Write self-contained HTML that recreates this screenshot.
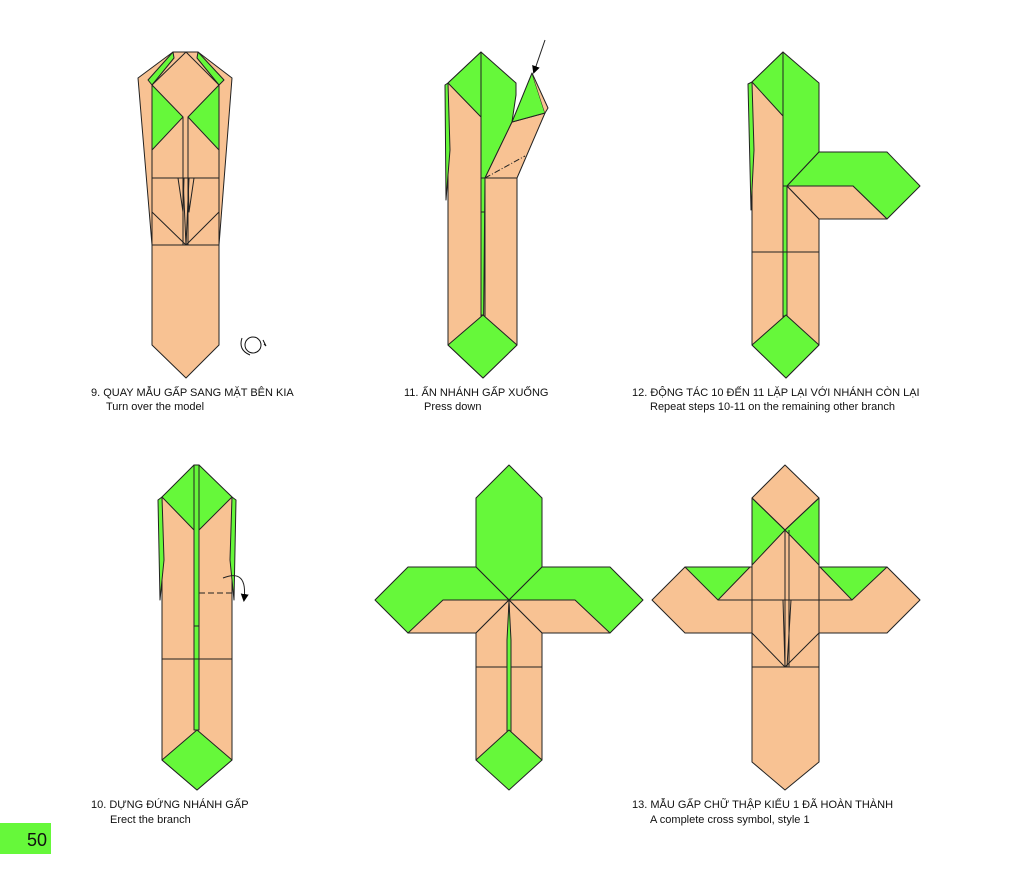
<!DOCTYPE html>
<html><head><meta charset="utf-8"><style>
html,body{margin:0;padding:0;background:#fff;}
svg{display:block}
text{font-family:"Liberation Sans",Arial,sans-serif;fill:#111;}
</style></head><body>
<svg width="1024" height="875" viewBox="0 0 1024 875" xmlns="http://www.w3.org/2000/svg">
<defs>
<marker id="ah" markerWidth="8" markerHeight="8" refX="6" refY="4" orient="auto" markerUnits="userSpaceOnUse"><path d="M0,0 L8,4 L0,8 z" fill="#000"/></marker>
</defs>
<g stroke="#222" stroke-width="1" stroke-linejoin="round">
<!-- FIG 9 -->
<polygon points="138,78 173,52 186,52 198,52 232,78 219,245 219,345 186,378 152,345 152,245" fill="#F8C293"/>
<polygon points="148,80 173,52 174,58 152,85" fill="#66F83A"/>
<polygon points="224,80 198,52 197,58 219,85" fill="#66F83A"/>
<polygon points="152,85 183,117 152,150" fill="#66F83A"/>
<polygon points="219,85 188,117 219,150" fill="#66F83A"/>
<polyline points="152,85 186,52 219,85" fill="none"/>
<line x1="152" y1="85" x2="152" y2="245"/><line x1="219" y1="85" x2="219" y2="245"/>
<line x1="183" y1="117" x2="183" y2="245"/><line x1="188" y1="117" x2="188" y2="245"/>
<line x1="152" y1="178" x2="219" y2="178"/><line x1="152" y1="245" x2="219" y2="245"/>
<polyline points="152,212 186,245 219,212" fill="none"/>
<polyline points="178,178 183,212 184,178" fill="none"/>
<polyline points="188,178 189,212 194,178" fill="none"/>
<line x1="186" y1="245" x2="183" y2="178"/><line x1="186" y1="245" x2="189" y2="178"/>
<!-- FIG 11 -->
<polygon points="448,83 481,52 481,345 483,378 448,345" fill="#F8C293"/>
<polygon points="448,83 481,52 481,117" fill="#66F83A"/>
<polygon points="445,85 448,83 450,150 446,200" fill="#66F83A"/>
<polygon points="481,52 516,83 516,95 512,122 485,178 481,178" fill="#66F83A"/>
<rect x="481" y="178" width="5" height="137" fill="#66F83A"/>
<polygon points="485,178 517,178 517,345 483,378" fill="#F8C293"/>
<line x1="481" y1="52" x2="481" y2="345"/>
<line x1="485" y1="178" x2="485" y2="345"/>
<line x1="481" y1="212" x2="485" y2="212"/>
<polygon points="485,178 517,178 545,113 512,122" fill="#F8C293"/>
<polygon points="512,122 545,113 532,73" fill="#66F83A"/>
<polyline points="532,73 548,108 545,113" fill="#F8C293"/>
<line x1="485" y1="178" x2="525" y2="156" stroke-dasharray="6,2,1,2"/>
<polygon points="448,345 483,315 517,345 483,378" fill="#66F83A"/>
<line x1="545" y1="40" x2="534" y2="72" marker-end="url(#ah)"/>
<!-- FIG 12 -->
<polygon points="752,82 783,52 783,345 786,378 752,345" fill="#F8C293"/>
<polygon points="752,82 783,52 783,116" fill="#66F83A"/>
<polygon points="748,84 752,82 754,150 751,210" fill="#66F83A"/>
<polygon points="783,52 819,83 819,152 787,186 783,186" fill="#66F83A"/>
<rect x="783" y="186" width="4" height="130" fill="#66F83A"/>
<polygon points="787,186 819,219 819,345 786,378 787,315" fill="#F8C293"/>
<polygon points="787,186 819,152 887,152 920,186 887,219 853,186" fill="#66F83A"/>
<polygon points="787,186 853,186 887,219 819,219" fill="#F8C293"/>
<line x1="752" y1="252" x2="819" y2="252"/>
<line x1="783" y1="52" x2="783" y2="345"/><line x1="787" y1="186" x2="787" y2="345"/>
<polygon points="752,345 786,315 819,345 786,378" fill="#66F83A"/>
<!-- FIG 10 -->
<polygon points="162,497 197,465 232,497 232,760 197,790 162,760" fill="#F8C293"/>
<polygon points="158,500 162,497 164,560 160,600" fill="#66F83A"/>
<polygon points="236,500 232,497 230,560 234,600" fill="#66F83A"/>
<polygon points="162,497 194,465 194,530" fill="#66F83A"/>
<polygon points="232,497 199,465 199,530" fill="#66F83A"/>
<rect x="194" y="465" width="5" height="265" fill="#66F83A"/>
<line x1="162" y1="659" x2="232" y2="659"/>
<line x1="194" y1="626" x2="199" y2="626"/>
<line x1="199" y1="593" x2="232" y2="593" stroke-dasharray="6,3"/>
<polygon points="162,760 197,730 232,760 197,790" fill="#66F83A"/>
<path d="M223,578 Q248,568 244,600" fill="none" marker-end="url(#ah)"/>
<!-- FIG middle cross -->
<polygon points="476,498 509,465 542,498 542,567 509,600 476,567" fill="#66F83A"/>
<polygon points="375,600 408,567 476,567 509,600 443,633 408,633" fill="#66F83A"/>
<polygon points="643,600 610,567 542,567 509,600 575,633 610,633" fill="#66F83A"/>
<polygon points="408,633 443,600 509,600 476,633" fill="#F8C293"/>
<polygon points="610,633 575,600 509,600 542,633" fill="#F8C293"/>
<polygon points="476,633 509,600 507,667 476,667" fill="#F8C293"/>
<polygon points="542,633 509,600 511,667 542,667" fill="#F8C293"/>
<rect x="476" y="667" width="31" height="93" fill="#F8C293"/>
<rect x="511" y="667" width="31" height="93" fill="#F8C293"/>
<polygon points="509,602 511,640 511,735 507,735 507,640" fill="#66F83A"/>
<polygon points="476,760 509,730 542,760 509,790" fill="#66F83A"/>
<!-- FIG 13 -->
<polygon points="752,498 785,465 819,498 819,567 887,567 920,600 887,633 819,633 819,762 785,790 752,762 752,633 685,633 652,600 685,567 752,567" fill="#F8C293"/>
<polygon points="752,498 785,530 752,565" fill="#66F83A"/>
<polygon points="819,498 785,530 819,565" fill="#66F83A"/>
<polygon points="685,567 750,567 718,600" fill="#66F83A"/>
<polygon points="887,567 820,567 852,600" fill="#66F83A"/>
<polyline points="752,498 785,530 819,498" fill="none"/>
<line x1="785" y1="530" x2="785" y2="667"/><line x1="789" y1="530" x2="789" y2="667"/>
<line x1="718" y1="600" x2="852" y2="600"/>
<line x1="752" y1="567" x2="752" y2="667"/><line x1="819" y1="567" x2="819" y2="667"/>
<line x1="752" y1="667" x2="819" y2="667"/>
<polyline points="752,633 785,667 819,633" fill="none"/>
<line x1="785" y1="667" x2="783" y2="600"/><line x1="787" y1="667" x2="791" y2="600"/>
</g>
<g fill="none" stroke="#111" stroke-width="1">
<ellipse cx="253" cy="345" rx="8" ry="8"/>
<path d="M242,338 Q238,350 250,355"/>
<path d="M263,340 L266,346 L264,344"/>
</g>
<g font-size="11">
<text x="91" y="396">9. QUAY MẪU GẤP SANG MẶT BÊN KIA</text>
<text x="106" y="410">Turn over the model</text>
<text x="404" y="396">11. ẤN NHÁNH GẤP XUỐNG</text>
<text x="424" y="410">Press down</text>
<text x="632" y="396">12. ĐỘNG TÁC 10 ĐẾN 11 LẶP LẠI VỚI NHÁNH CÒN LẠI</text>
<text x="650" y="410">Repeat steps 10-11 on the remaining other branch</text>
<text x="91" y="808">10. DỰNG ĐỨNG NHÁNH GẤP</text>
<text x="110" y="823">Erect the branch</text>
<text x="632" y="808">13. MẪU GẤP CHỮ THẬP KIỂU 1 ĐÃ HOÀN THÀNH</text>
<text x="650" y="823">A complete cross symbol, style 1</text>
</g>
<rect x="0" y="823" width="51" height="31" fill="#66F83A"/>
<text x="27" y="846" font-size="18">50</text>
</svg>
</body></html>
